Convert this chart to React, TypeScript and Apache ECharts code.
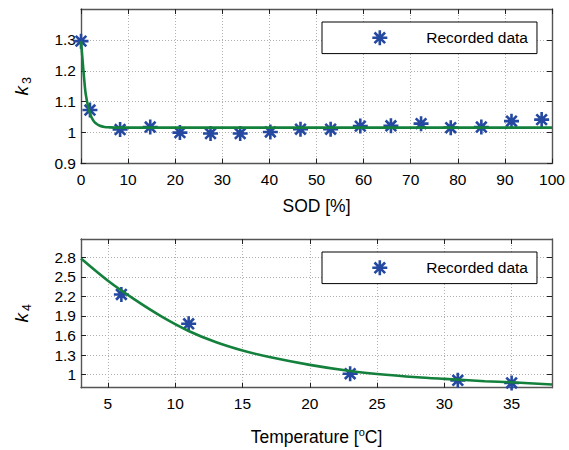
import React, { useEffect, useRef } from 'react';
import * as echarts from 'echarts';

// ---- Top panel: k3 vs SOD ----
const sodX = [0, 1.9, 8.3, 14.7, 21, 27.5, 33.8, 40.2, 46.6, 53, 59.3, 65.8, 72.2, 78.5, 85, 91.4, 97.8];
const k3Values = [1.296, 1.073, 1.01, 1.018, 1.0, 0.997, 0.997, 1.002, 1.011, 1.011, 1.021, 1.022, 1.029, 1.016, 1.018, 1.037, 1.042];
const k3FitX = [0, 0.25, 0.5, 0.75, 1, 1.5, 2, 2.5, 3, 4, 5, 6, 8, 20, 40, 60, 80, 100];
const k3FitY = [1.296, 1.25, 1.204, 1.16, 1.125, 1.085, 1.058, 1.042, 1.032, 1.022, 1.018, 1.017, 1.016, 1.016, 1.016, 1.016, 1.016, 1.016];
const topXTicks = [0, 10, 20, 30, 40, 50, 60, 70, 80, 90, 100];
const topYTicks = [0.9, 1, 1.1, 1.2, 1.3];

// ---- Bottom panel: k4 vs Temperature ----
const tempX = [6, 11, 23, 31, 35];
const k4Values = [2.23, 1.78, 1.015, 0.913, 0.873];
const k4FitX = [3, 5, 7, 9, 11, 13, 15, 17, 20, 23, 25, 28, 30, 33, 35, 38];
const k4FitY = [2.78, 2.44, 2.15, 1.89, 1.67, 1.5, 1.37, 1.27, 1.15, 1.055, 1.01, 0.96, 0.935, 0.9, 0.883, 0.85];
const botXTicks = [5, 10, 15, 20, 25, 30, 35];
const botYTicks = [1, 1.3, 1.6, 1.9, 2.2, 2.5, 2.8];

const STAR = 'path://M0,-10L0,10M-10,0L10,0M-7.07,-7.07L7.07,7.07M-7.07,7.07L7.07,-7.07';
const BLUE = '#2548a0';
const GREEN = '#13803c';
const FONT = 'Liberation Sans';
const AXIS_COLOR = '#555555';
const TICK_FS = 15.5;

function makeXAxis(gridIndex: number, min: number, max: number, ticks: number[], name: any, nameGap: number, rich: any) {
  return [
    {
      type: 'value', gridIndex, min, max, position: 'bottom',
      name, nameLocation: 'middle', nameGap,
      nameTextStyle: { color: '#000', fontFamily: FONT, fontSize: 17.5, rich },
      axisLine: { show: true, onZero: false, lineStyle: { color: AXIS_COLOR, width: 1.4 } },
      axisTick: { show: true, inside: true, length: 5, customValues: ticks, lineStyle: { color: '#222', width: 1 } },
      axisLabel: { show: true, customValues: ticks, color: '#000', fontFamily: FONT, fontSize: TICK_FS, margin: 8 },
      splitLine: { show: true, lineStyle: { color: '#b0b0b0', width: 1, type: [1, 2] } },
    },
    {
      type: 'value', gridIndex, min, max, position: 'top',
      axisLine: { show: true, onZero: false, lineStyle: { color: AXIS_COLOR, width: 1.4 } },
      axisTick: { show: true, inside: true, length: 5, customValues: ticks, lineStyle: { color: '#222', width: 1 } },
      axisLabel: { show: false },
      splitLine: { show: false },
    },
  ];
}

function makeYAxis(gridIndex: number, min: number, max: number, ticks: number[], name: string, sub: string) {
  return [
    {
      type: 'value', gridIndex, min, max, position: 'left',
      name: `{k|${name}}{s|${sub}}`, nameLocation: 'middle', nameGap: 48,
      nameTextStyle: {
        color: '#000',
        rich: {
          k: { fontFamily: FONT, fontStyle: 'italic', fontSize: 19, color: '#000' },
          s: { fontFamily: FONT, fontSize: 12.5, color: '#000', padding: [10, 0, 0, 2] },
        },
      },
      axisLine: { show: true, onZero: false, lineStyle: { color: AXIS_COLOR, width: 1.4 } },
      axisTick: { show: true, inside: true, length: 5, customValues: ticks, lineStyle: { color: '#222', width: 1 } },
      axisLabel: { show: true, customValues: ticks, color: '#000', fontFamily: FONT, fontSize: TICK_FS, margin: 5 },
      splitLine: { show: true, lineStyle: { color: '#b0b0b0', width: 1, type: [1, 2] } },
    },
    {
      type: 'value', gridIndex, min, max, position: 'right',
      axisLine: { show: true, onZero: false, lineStyle: { color: AXIS_COLOR, width: 1.4 } },
      axisTick: { show: true, inside: true, length: 5, customValues: ticks, lineStyle: { color: '#222', width: 1 } },
      axisLabel: { show: false },
      splitLine: { show: false },
    },
  ];
}

function makeLegend(top: number) {
  return {
    show: true,
    data: ['Recorded data'],
    left: 322,
    top,
    orient: 'horizontal',
    backgroundColor: '#fff',
    borderColor: '#000',
    borderWidth: 1,
    borderRadius: 0,
    padding: [7, 9, 7, 49],
    itemWidth: 15,
    itemHeight: 15,
    itemGap: 0,
    icon: STAR,
    itemStyle: { color: BLUE, borderColor: BLUE, borderWidth: 2.6, opacity: 1 },
    textStyle: { color: '#000', fontFamily: FONT, fontSize: TICK_FS, padding: [0, 0, 0, 34] },
    selectedMode: false,
  };
}

export default function App() {
  const ref = useRef<HTMLDivElement>(null);
  useEffect(() => {
    document.body.style.margin = '0';
    if (!ref.current) return;
    const chart = echarts.init(ref.current, null, { renderer: 'svg' });
    const topX = makeXAxis(0, 0, 100, topXTicks, 'SOD [%]', 33, {});
    const botX = makeXAxis(1, 3, 38, botXTicks, '{t|Temperature [}{sup|o}{t|C]}', 39, {
      t: { fontFamily: FONT, fontSize: 17.5, color: '#000' },
      sup: { fontFamily: FONT, fontSize: 11, color: '#000', padding: [0, 0, 10, 0] },
    });
    const topY = makeYAxis(0, 0.9, 1.4, topYTicks, 'k', '3');
    const botY = makeYAxis(1, 0.8, 3.08, botYTicks, 'k', '4');
    const option: any = {
      animation: false,
      backgroundColor: '#fff',
      textStyle: { fontFamily: FONT },
      grid: [
        { left: 81, right: 17, top: 9, height: 154.5, containLabel: false },
        { left: 81, right: 17, top: 239, height: 148.7, containLabel: false },
      ],
      xAxis: [...topX, ...botX],
      yAxis: [...topY, ...botY],
      legend: [makeLegend(22), makeLegend(252)],
      series: [
        {
          name: 'Recorded data', type: 'scatter', xAxisIndex: 0, yAxisIndex: 0,
          data: sodX.map((x, i) => [x, k3Values[i]]),
          symbol: STAR, symbolSize: 15,
          itemStyle: { color: BLUE, borderColor: BLUE, borderWidth: 2.6, opacity: 1 }, z: 2,
        },
        {
          type: 'line', xAxisIndex: 0, yAxisIndex: 0,
          data: k3FitX.map((x, i) => [x, k3FitY[i]]),
          smooth: 0.3, showSymbol: false, symbol: 'none',
          lineStyle: { color: GREEN, width: 2.6 }, z: 3,
        },
        {
          name: 'Recorded data', type: 'scatter', xAxisIndex: 2, yAxisIndex: 2,
          data: tempX.map((x, i) => [x, k4Values[i]]),
          symbol: STAR, symbolSize: 15,
          itemStyle: { color: BLUE, borderColor: BLUE, borderWidth: 2.6, opacity: 1 }, z: 2,
        },
        {
          type: 'line', xAxisIndex: 2, yAxisIndex: 2,
          data: k4FitX.map((x, i) => [x, k4FitY[i]]),
          smooth: 0.3, showSymbol: false, symbol: 'none',
          lineStyle: { color: GREEN, width: 2.6 }, z: 3,
        },
      ],
    };
    chart.setOption(option);
    return () => chart.dispose();
  }, []);
  return <div ref={ref} style={{ width: 569, height: 450 }} />;
}
